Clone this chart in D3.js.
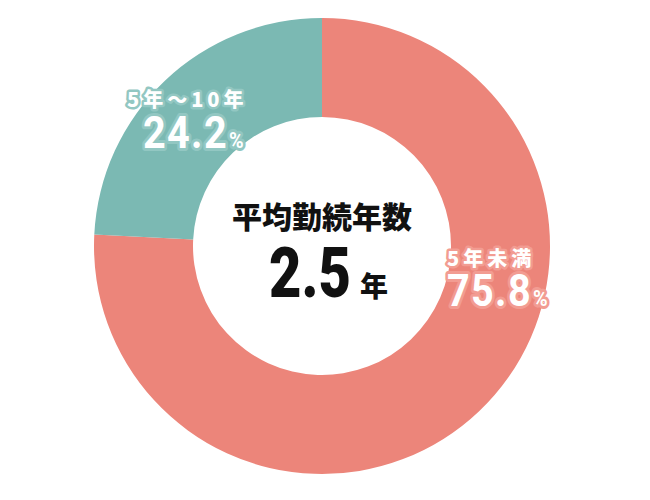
<!DOCTYPE html>
<html>
<head>
<meta charset="utf-8">
<script src="https://cdn.jsdelivr.net/npm/d3@7"></script>
<style>
  body { margin: 0; background: #fff; }
  svg { display: block; }
</style>
</head>
<body>
<div id="chart"></div>
<script>
const categories = ['5年未満', '5年〜10年'];
const shares = [75.8, 24.2];
const colors = ['#ec857a', '#7bb9b3'];
const haloColors = ['#f29c92', '#92c7c2'];
const centerTitle = '平均勤続年数';
const centerValue = '2.5';
const centerUnit = '年';

const width = 650, height = 500;
const cx = 322, cy = 246;
const outerR = 228, innerR = 129;

const svg = d3.select('#chart').append('svg')
  .attr('width', width)
  .attr('height', height);

const data = categories.map((c, i) => ({ name: c, value: shares[i], color: colors[i], halo: haloColors[i] }));

const pie = d3.pie()
  .sort(null)
  .value(d => d.value)
  .startAngle(0)
  .endAngle(2 * Math.PI);

const arc = d3.arc().innerRadius(innerR).outerRadius(outerR);

const g = svg.append('g').attr('transform', `translate(${cx},${cy})`);

g.selectAll('path')
  .data(pie(data))
  .join('path')
  .attr('d', arc)
  .attr('fill', d => d.data.color);

// slice labels (positions relative to centre)
const labelPos = [
  { name: [125, 20], pct: [125, 60] },    // 5年未満
  { name: [-195, -139], pct: [-179, -98] } // 5年〜10年
];

const jp = '"Noto Sans CJK JP", "Noto Sans", sans-serif';
const num = 'Roboto, "Noto Sans", sans-serif';

data.forEach((d, i) => {
  const p = labelPos[i];
  const lab = g.append('g');
  lab.append('text')
    .attr('x', p.name[0])
    .attr('y', p.name[1])
    .attr('font-family', jp)
    .attr('font-weight', 900)
    .attr('font-size', 20)
    .attr('letter-spacing', 4)
    .attr('fill', '#fff')
    .attr('stroke', d.halo)
    .attr('stroke-width', 5)
    .attr('stroke-linejoin', 'round')
    .attr('paint-order', 'stroke')
    .text(d.name);

  const pctText = lab.append('text')
    .attr('transform', `translate(${p.pct[0]},${p.pct[1]}) scale(0.9,1)`)
    .attr('font-family', num)
    .attr('font-weight', 700)
    .attr('font-size', 44)
    .attr('letter-spacing', 1.5)
    .attr('fill', '#fff')
    .attr('stroke', d.halo)
    .attr('stroke-width', 6)
    .attr('stroke-linejoin', 'round')
    .attr('paint-order', 'stroke');
  pctText.append('tspan').text(d3.format('.1f')(d.value));
  pctText.append('tspan').attr('font-size', 22).attr('dx', 1).text('%');
});

// centre text
g.append('text')
  .attr('x', 0)
  .attr('y', -18)
  .attr('text-anchor', 'middle')
  .attr('font-family', jp)
  .attr('font-weight', 900)
  .attr('font-size', 30)
  .attr('fill', '#111')
  .text(centerTitle);

g.append('text')
  .attr('transform', 'translate(-53,51) scale(0.8,1)')
  .attr('font-family', num)
  .attr('font-weight', 900)
  .attr('font-size', 70)
  .attr('fill', '#111')
  .text(centerValue);

g.append('text')
  .attr('x', 38)
  .attr('y', 51)
  .attr('font-family', jp)
  .attr('font-weight', 900)
  .attr('font-size', 28)
  .attr('fill', '#111')
  .text(centerUnit);
</script>
</body>
</html>
